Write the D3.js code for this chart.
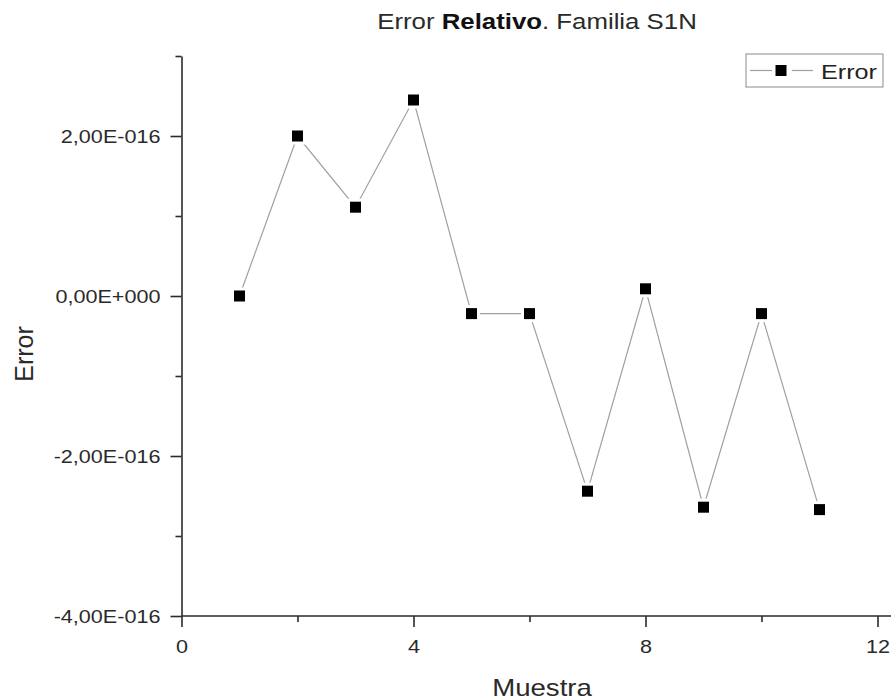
<!DOCTYPE html>
<html>
<head>
<meta charset="utf-8">
<script src="https://cdn.jsdelivr.net/npm/d3@7"></script>
<style>
  body { margin: 0; background: #fff; }
  svg { display: block; font-family: "Liberation Sans", Arial, sans-serif; }
</style>
</head>
<body>
<script>
// data
var samples = [1, 2, 3, 4, 5, 6, 7, 8, 9, 10, 11];
var errors = [0, 2.00e-16, 1.11e-16, 2.45e-16, -0.22e-16, -0.22e-16, -2.44e-16, 0.09e-16, -2.64e-16, -0.22e-16, -2.67e-16];
var xMajor = [0, 4, 8, 12];
var xMinor = [2, 6, 10];
var yMajor = [-4e-16, -2e-16, 0, 2e-16];
var yMinor = [-3e-16, -1e-16, 1e-16, 3e-16];
var seriesName = "Error";

var width = 891;
var height = 700;
var stretch = 1.2; // text in the original looks wide

var svg = d3.select("body").append("svg")
  .attr("width", width)
  .attr("height", height);

var x = d3.scaleLinear().domain([0, 12]).range([181.5, 877.5]);
var y = d3.scaleLinear().domain([-4e-16, 3e-16]).range([616, 56]);

// origin style labels, e.g. 2,00E-016
var fmt = function(v) {
  if (v === 0) return "0,00E+000";
  var parts = v.toExponential(2).split("e");
  var exp = +parts[1];
  var e = (exp < 0 ? "-" : "+") + String(Math.abs(exp)).padStart(3, "0");
  return parts[0].replace(".", ",") + "E" + e;
};

var axisColor = "#2b2b2b";
var textColor = "#2a2a2a";

// x axis
var xAxis = svg.append("g")
  .attr("transform", "translate(0," + y.range()[0] + ")")
  .call(d3.axisBottom(x).tickValues(xMajor).tickSize(11).tickSizeOuter(0));
svg.append("g")
  .attr("transform", "translate(0," + y.range()[0] + ")")
  .call(d3.axisBottom(x).tickValues(xMinor).tickSize(6).tickFormat(""))
  .select(".domain").remove();
xAxis.select(".domain").attr("d", "M" + x.range()[0] + ",0H" + width);
xAxis.selectAll("text")
  .attr("y", 0)
  .attr("dy", 0)
  .attr("transform", "translate(0,37) scale(" + stretch + ",1)")
  .style("font-size", "18px")
  .attr("fill", textColor);

// y axis
var yAxis = svg.append("g")
  .attr("transform", "translate(" + x.range()[0] + ",0)")
  .call(d3.axisLeft(y).tickValues(yMajor).tickFormat(fmt).tickSize(11).tickSizeOuter(0));
svg.append("g")
  .attr("transform", "translate(" + x.range()[0] + ",0)")
  .call(d3.axisLeft(y).tickValues(yMinor).tickSize(6).tickFormat(""))
  .select(".domain").remove();
yAxis.selectAll("text")
  .attr("x", 0)
  .attr("dy", "0.35em")
  .attr("transform", "translate(-21,0) scale(" + stretch + ",1)")
  .style("font-size", "18px")
  .attr("fill", textColor);

svg.selectAll(".domain, .tick line")
  .attr("stroke", axisColor)
  .attr("stroke-width", 1.6);

// line + square markers
var line = d3.line()
  .x(function(d, i) { return x(samples[i]); })
  .y(function(d) { return y(d); });

svg.append("path")
  .datum(errors)
  .attr("d", line)
  .attr("fill", "none")
  .attr("stroke", "#a0a0a0")
  .attr("stroke-width", 1.2);

var size = 11;
var gap = 3; // origin leaves a small gap between line and symbol
var pts = svg.selectAll("g.pt")
  .data(errors)
  .enter().append("g")
  .attr("class", "pt")
  .attr("transform", function(d, i) { return "translate(" + x(samples[i]) + "," + y(d) + ")"; });
pts.append("rect")
  .attr("x", -size / 2 - gap).attr("y", -size / 2 - gap)
  .attr("width", size + 2 * gap).attr("height", size + 2 * gap)
  .attr("fill", "#fff");
pts.append("rect")
  .attr("x", -size / 2).attr("y", -size / 2)
  .attr("width", size).attr("height", size)
  .attr("fill", "#000");

// title
var title = svg.append("text")
  .attr("transform", "translate(537,29) scale(" + stretch + ",1)")
  .attr("text-anchor", "middle")
  .style("font-size", "21.5px")
  .attr("fill", textColor);
title.append("tspan").text("Error ");
title.append("tspan").style("font-weight", "bold").attr("fill", "#111").text("Relativo");
title.append("tspan").text(". Familia S1N");

// axis titles
svg.append("text")
  .attr("transform", "translate(542,696) scale(" + stretch + ",1)")
  .attr("text-anchor", "middle")
  .style("font-size", "23px")
  .attr("fill", textColor)
  .text("Muestra");

svg.append("text")
  .attr("transform", "translate(33,354) rotate(-90)")
  .attr("text-anchor", "middle")
  .style("font-size", "25px")
  .attr("fill", textColor)
  .text("Error");

// legend
var legend = svg.append("g").attr("transform", "translate(746,54)");
legend.append("rect")
  .attr("width", 137)
  .attr("height", 33)
  .attr("fill", "#fff")
  .attr("stroke", "#8a8a8a")
  .attr("stroke-width", 1);
legend.selectAll("line")
  .data([[4, 26], [46, 67]])
  .enter().append("line")
  .attr("x1", function(d) { return d[0]; })
  .attr("x2", function(d) { return d[1]; })
  .attr("y1", 16.5).attr("y2", 16.5)
  .attr("stroke", "#a0a0a0")
  .attr("stroke-width", 1.2);
legend.append("rect")
  .attr("x", 35 - size / 2)
  .attr("y", 16.5 - size / 2)
  .attr("width", size)
  .attr("height", size)
  .attr("fill", "#000");
legend.append("text")
  .attr("transform", "translate(75,25) scale(" + stretch + ",1)")
  .style("font-size", "21px")
  .attr("fill", "#222")
  .text(seriesName);
</script>
</body>
</html>
